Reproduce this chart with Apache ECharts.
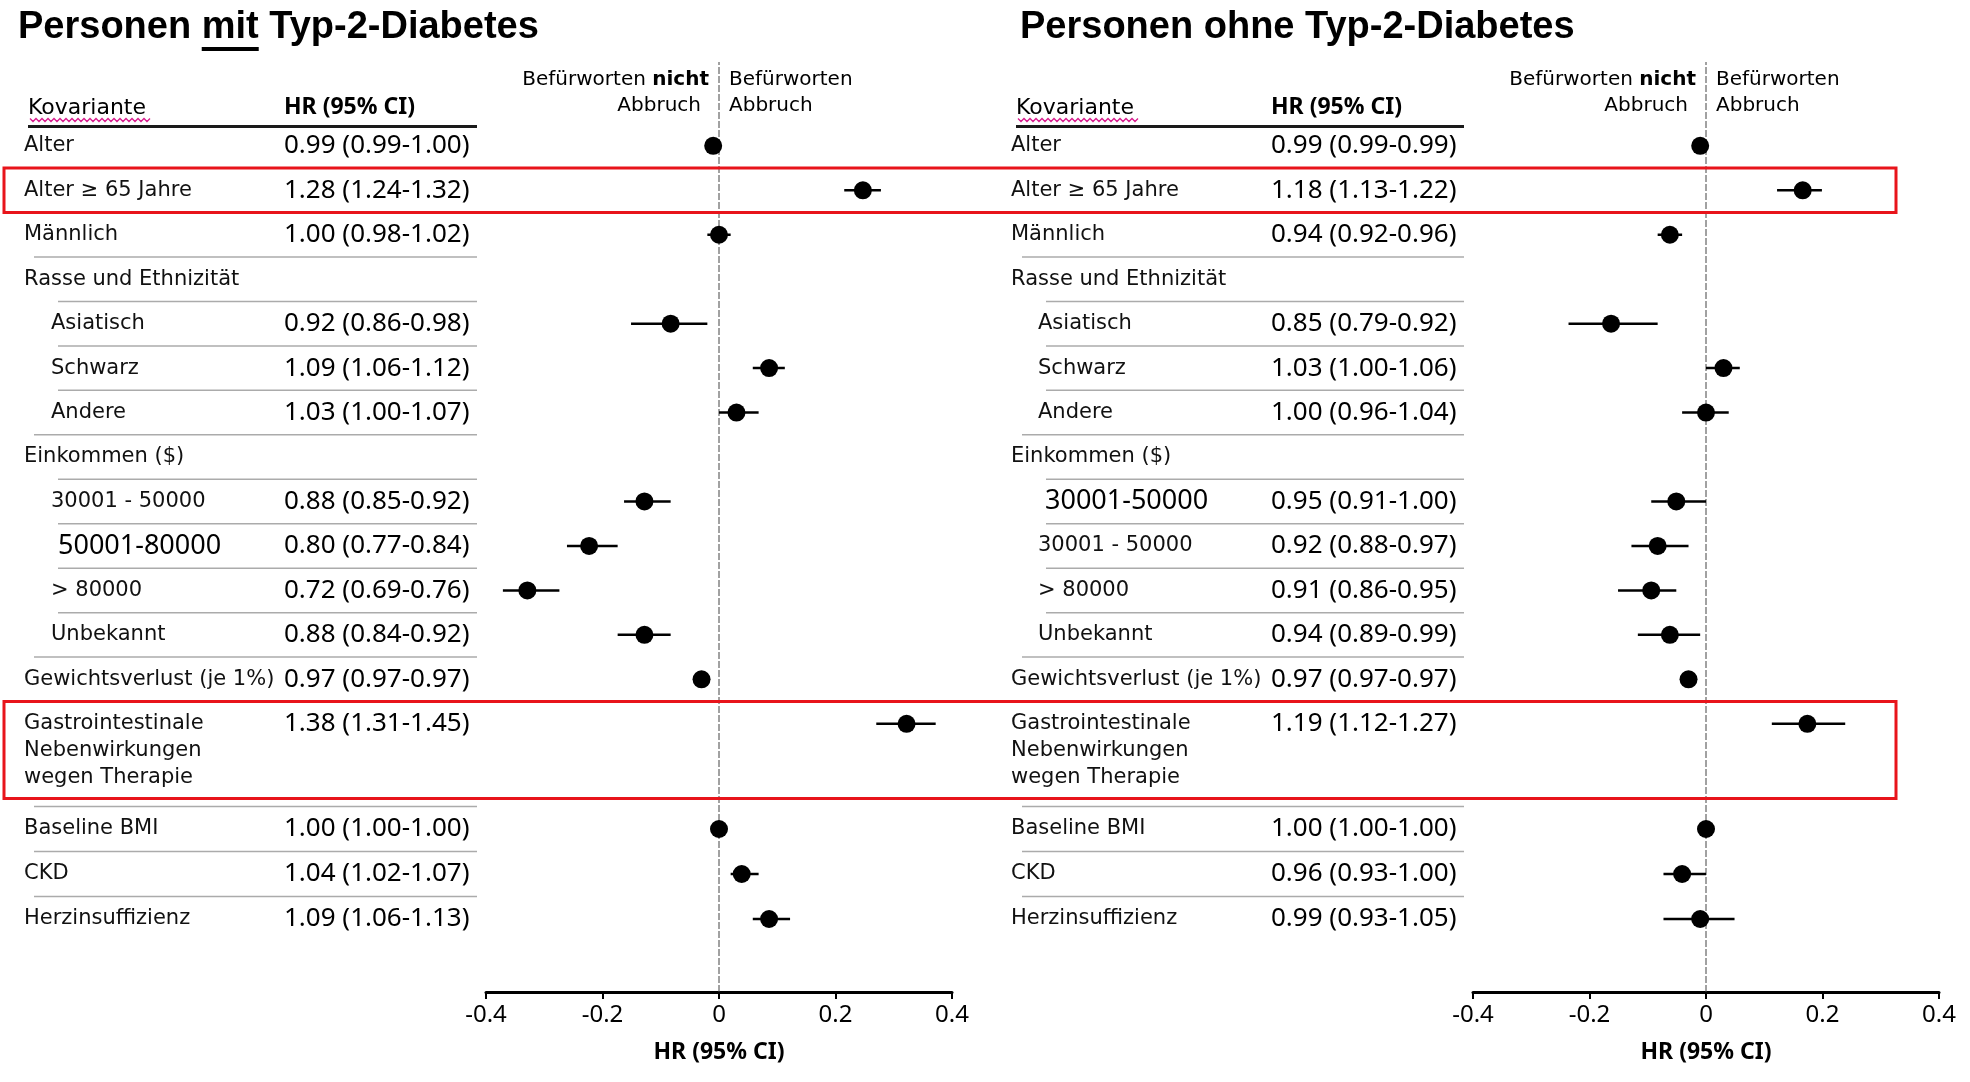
<!DOCTYPE html>
<html>
<head>
<meta charset="utf-8">
<title>HR Forest Plot</title>
<script src="https://cdn.jsdelivr.net/npm/echarts@6/dist/echarts.min.js"></script>
<style>
html, body { margin: 0; padding: 0; background: #fff; }
#main { width: 1970px; height: 1082px; }
</style>
</head>
<body>
<div id="main"></div>
<script>
// Zeilen (Kovariaten) je Panel
var rowsMit = ['Alter', 'Alter ≥ 65 Jahre', 'Männlich', 'Rasse und Ethnizität', 'Asiatisch', 'Schwarz', 'Andere',
    'Einkommen ($)', '30001 - 50000', '50001-80000', '> 80000', 'Unbekannt', 'Gewichtsverlust (je 1%)',
    'Gastrointestinale\nNebenwirkungen\nwegen Therapie', 'Baseline BMI', 'CKD', 'Herzinsuffizienz'];
var rowsOhne = ['Alter', 'Alter ≥ 65 Jahre', 'Männlich', 'Rasse und Ethnizität', 'Asiatisch', 'Schwarz', 'Andere',
    'Einkommen ($)', '30001-50000', '30001 - 50000', '> 80000', 'Unbekannt', 'Gewichtsverlust (je 1%)',
    'Gastrointestinale\nNebenwirkungen\nwegen Therapie', 'Baseline BMI', 'CKD', 'Herzinsuffizienz'];

var hrMit = ['0.99 (0.99-1.00)', '1.28 (1.24-1.32)', '1.00 (0.98-1.02)', '', '0.92 (0.86-0.98)', '1.09 (1.06-1.12)',
    '1.03 (1.00-1.07)', '', '0.88 (0.85-0.92)', '0.80 (0.77-0.84)', '0.72 (0.69-0.76)', '0.88 (0.84-0.92)',
    '0.97 (0.97-0.97)', '1.38 (1.31-1.45)', '1.00 (1.00-1.00)', '1.04 (1.02-1.07)', '1.09 (1.06-1.13)'];
var hrOhne = ['0.99 (0.99-0.99)', '1.18 (1.13-1.22)', '0.94 (0.92-0.96)', '', '0.85 (0.79-0.92)', '1.03 (1.00-1.06)',
    '1.00 (0.96-1.04)', '', '0.95 (0.91-1.00)', '0.92 (0.88-0.97)', '0.91 (0.86-0.95)', '0.94 (0.89-0.99)',
    '0.97 (0.97-0.97)', '1.19 (1.12-1.27)', '1.00 (1.00-1.00)', '0.96 (0.93-1.00)', '0.99 (0.93-1.05)'];

// Punktschaetzer und KI (log-Skala der Achse)
var estMit = [-0.010, 0.247, 0.000, null, -0.083, 0.086, 0.030, null, -0.128, -0.223, -0.329, -0.128, -0.030, 0.322, 0.000, 0.039, 0.086];
var loMit  = [-0.010, 0.215, -0.020, null, -0.151, 0.058, 0.000, null, -0.163, -0.261, -0.371, -0.174, -0.030, 0.270, 0.000, 0.020, 0.058];
var hiMit  = [0.000, 0.278, 0.020, null, -0.020, 0.113, 0.068, null, -0.083, -0.174, -0.274, -0.083, -0.030, 0.372, 0.000, 0.068, 0.122];

var estOhne = [-0.010, 0.166, -0.062, null, -0.163, 0.030, 0.000, null, -0.051, -0.083, -0.094, -0.062, -0.030, 0.174, 0.000, -0.041, -0.010];
var loOhne  = [-0.010, 0.122, -0.083, null, -0.236, 0.000, -0.041, null, -0.094, -0.128, -0.151, -0.117, -0.030, 0.113, 0.000, -0.073, -0.073];
var hiOhne  = [-0.010, 0.199, -0.041, null, -0.083, 0.058, 0.039, null, 0.000, -0.030, -0.051, -0.010, -0.030, 0.239, 0.000, 0.000, 0.049];

var xMin = -0.4, xMax = 0.4, xStep = 0.2;

var LABEL_FONT = 'DejaVu Sans';
var NUM_FONT = 'Noto Sans';
var nUpper = 14;                       // Alter .. Gastrointestinale
var subRows = [4, 5, 6, 8, 9, 10, 11]; // eingerueckte Zeilen
var boxRows = [1, 13];                 // rot markiert

var chart = echarts.init(document.getElementById('main'));

var grids = [], xAxes = [], yAxes = [], series = [];

function addPanel(p) {
    var parts = [
        {from: 0, to: nUpper, top: 123.6, height: 622.4},
        {from: nUpper, to: p.rows.length, top: 806.5, height: 135}
    ];
    p.yIdx = [];
    parts.forEach(function (part) {
        var gi = grids.length;
        grids.push({left: p.left, width: 466, top: part.top, height: part.height, outerBoundsMode: 'none'});
        var xi = xAxes.length;
        xAxes.push({gridIndex: gi, type: 'value', min: xMin, max: xMax, show: false});
        var idx = [];
        for (var i = part.from; i < part.to; i++) idx.push(i);

        var yi = yAxes.length;
        yAxes.push({
            gridIndex: gi, type: 'category', inverse: true, position: 'left',
            data: idx.map(function (i) { return p.rows[i]; }),
            axisLine: {show: false}, axisTick: {show: false}, splitLine: {show: false},
            axisLabel: {
                interval: 0, margin: 462, align: 'left',
                fontFamily: LABEL_FONT, fontSize: 21, color: '#111', lineHeight: 27,
                formatter: function (v, k) {
                    var i = part.from + k;
                    if (i === p.big) return '{big|' + v + '}';
                    if (subRows.indexOf(i) >= 0) return '{sub|' + v + '}';
                    if (v.indexOf('\n') >= 0) return '\n\n' + v;
                    return v;
                },
                rich: {
                    sub: {fontFamily: LABEL_FONT, fontSize: 21, color: '#111', lineHeight: 27, padding: [0, 0, 0, 27]},
                    big: {fontFamily: NUM_FONT, fontSize: 27, color: '#000', lineHeight: 27, padding: [0, 0, 0, 34]}
                }
            }
        });
        yAxes.push({
            gridIndex: gi, type: 'category', inverse: true, position: 'left',
            data: idx.map(function (i) { return p.hr[i]; }),
            axisLine: {show: false}, axisTick: {show: false}, splitLine: {show: false},
            axisLabel: {interval: 0, margin: 202, align: 'left', fontFamily: NUM_FONT, fontSize: 26, color: '#000'}
        });
        p.yIdx.push(yi);

        var bars = [], dots = [];
        idx.forEach(function (i, k) {
            if (p.est[i] === null) return;
            bars.push([p.lo[i], p.hi[i], k]);
            dots.push([p.est[i], k]);
        });
        series.push({
            type: 'custom', xAxisIndex: xi, yAxisIndex: yi, silent: true, z: 3,
            encode: {x: [0, 1], y: 2},
            data: bars,
            renderItem: function (params, api) {
                var a = api.coord([api.value(0), api.value(2)]);
                var b = api.coord([api.value(1), api.value(2)]);
                return {
                    type: 'line',
                    shape: {x1: a[0], y1: a[1], x2: b[0], y2: b[1]},
                    style: {stroke: '#000', lineWidth: 2.5}
                };
            }
        });
        series.push({
            type: 'scatter', xAxisIndex: xi, yAxisIndex: yi, silent: true, z: 4,
            symbolSize: 18, itemStyle: {color: '#000', opacity: 1},
            data: dots
        });
    });

    // Achse und Nulllinie ueber die ganze Hoehe
    var ga = grids.length;
    grids.push({left: p.left, width: 466, top: 62, bottom: 90, outerBoundsMode: 'none'});
    p.xAxis = xAxes.length;
    xAxes.push({
        gridIndex: ga, type: 'value', min: xMin, max: xMax, interval: xStep,
        name: 'HR (95% CI)', nameLocation: 'middle', nameGap: 49,
        nameTextStyle: {fontFamily: NUM_FONT, fontSize: 23, fontWeight: 'bold', color: '#000'},
        axisLine: {onZero: false, lineStyle: {color: '#000', width: 3}},
        axisTick: {length: 7, lineStyle: {color: '#000', width: 2}},
        axisLabel: {margin: 11, fontFamily: NUM_FONT, fontSize: 24, color: '#000'},
        splitLine: {show: false}
    });
    var ya = yAxes.length;
    yAxes.push({gridIndex: ga, type: 'value', min: 0, max: 1, show: false});
    series.push({
        type: 'line', xAxisIndex: p.xAxis, yAxisIndex: ya, silent: true, z: 1,
        symbol: 'none', data: [[0, 0], [0, 1]],
        lineStyle: {color: '#444', width: 1, type: [7, 2]}
    });
}

var panels = [
    {title: 'Personen mit Typ-2-Diabetes', underline: 'mit', titleX: 18, tableX: 24, left: 486,
        rows: rowsMit, hr: hrMit, est: estMit, lo: loMit, hi: hiMit, big: 9},
    {title: 'Personen ohne Typ-2-Diabetes', titleX: 1020, tableX: 1012, left: 1473,
        rows: rowsOhne, hr: hrOhne, est: estOhne, lo: loOhne, hi: hiOhne, big: 8}
];
panels.forEach(addPanel);

chart.setOption({
    backgroundColor: '#fff',
    animation: false,
    grid: grids,
    xAxis: xAxes,
    yAxis: yAxes,
    series: series
});

// Tabellenlinien, Kopfzeilen, Rahmen
function py(yi, k) { return chart.convertToPixel({yAxisIndex: yi}, k); }

var measure = document.createElement('canvas').getContext('2d');
var graphics = [];

panels.forEach(function (p) {
    var up = p.yIdx[0], low = p.yIdx[1];
    var band = py(up, 1) - py(up, 0);
    var lowBand = py(low, 1) - py(low, 0);
    var zero = chart.convertToPixel({xAxisIndex: p.xAxis}, 0);
    var tableEnd = p.left - 9;

    function boundaryAfter(i) {
        if (i < nUpper - 1) return (py(up, i) + py(up, i + 1)) / 2;
        if (i === nUpper - 1) return py(low, 0) - lowBand / 2;
        return (py(low, i - nUpper) + py(low, i - nUpper + 1)) / 2;
    }

    for (var i = 0; i < p.rows.length - 1; i++) {
        var y = boundaryAfter(i);
        var x0 = subRows.indexOf(i + 1) >= 0 ? p.tableX + 34 : p.tableX + 10;
        graphics.push({type: 'line', z: 5, silent: true,
            shape: {x1: x0, y1: y, x2: tableEnd, y2: y},
            style: {stroke: '#ababab', lineWidth: 1.5}});
    }

    // Kopf
    var headY = py(up, 0) - band / 2 + 3;
    graphics.push({type: 'line', z: 5, silent: true,
        shape: {x1: p.tableX + 4, y1: headY, x2: tableEnd, y2: headY},
        style: {stroke: '#1a1a1a', lineWidth: 3}});
    graphics.push({type: 'text', z: 6, silent: true,
        style: {x: p.tableX + 4, y: 108, text: 'Kovariante', font: '22px "' + LABEL_FONT + '"',
            fill: '#000', verticalAlign: 'middle'}});
    graphics.push({type: 'text', z: 6, silent: true,
        style: {x: p.left - 202, y: 107, text: 'HR (95% CI)', font: 'bold 23px "' + NUM_FONT + '"',
            fill: '#000', verticalAlign: 'middle'}});
    var wave = [];
    for (var wx = 0; wx <= 120; wx += 3) {
        wave.push([p.tableX + 6 + wx, 120 + ((wx / 3) % 2 === 0 ? -1.5 : 1.5)]);
    }
    graphics.push({type: 'polyline', z: 6, silent: true, shape: {points: wave},
        style: {stroke: '#d8198c', lineWidth: 1.3, fill: null}});

    graphics.push({type: 'text', z: 6, silent: true,
        style: {x: zero - 10, y: 80, text: '{n|Befürworten }{b|nicht}', align: 'right', verticalAlign: 'middle',
            rich: {n: {font: '20px "' + LABEL_FONT + '"', fill: '#000'},
                   b: {font: 'bold 20px "' + LABEL_FONT + '"', fill: '#000'}}}});
    graphics.push({type: 'text', z: 6, silent: true,
        style: {x: zero - 18, y: 106, text: 'Abbruch', font: '20px "' + LABEL_FONT + '"', fill: '#000',
            align: 'right', verticalAlign: 'middle'}});
    graphics.push({type: 'text', z: 6, silent: true,
        style: {x: zero + 10, y: 67, text: 'Befürworten\nAbbruch', font: '20px "' + LABEL_FONT + '"', fill: '#000',
            lineHeight: 26, verticalAlign: 'top', align: 'left'}});

    // Titel
    var titleFont = 'bold 38px "Liberation Sans"';
    graphics.push({type: 'text', z: 6, silent: true,
        style: {x: p.titleX, y: 28, text: p.title, font: titleFont, fill: '#000', verticalAlign: 'middle'}});
    if (p.underline) {
        measure.font = titleFont;
        var pre = p.title.slice(0, p.title.indexOf(p.underline));
        var ux = p.titleX + measure.measureText(pre).width;
        var uw = measure.measureText(p.underline).width;
        graphics.push({type: 'line', z: 6, silent: true,
            shape: {x1: ux, y1: 49, x2: ux + uw, y2: 49},
            style: {stroke: '#000', lineWidth: 4}});
    }

    p.boundaryAfter = boundaryAfter;
    p.lowTop = py(low, 0) - lowBand / 2;
});

// rote Rahmen (ueber beide Panels)
var p0 = panels[0];
boxRows.forEach(function (r) {
    var top = p0.boundaryAfter(r - 1);
    var bottom = r < nUpper - 1 ? p0.boundaryAfter(r) : p0.lowTop - 8;
    graphics.push({type: 'rect', z: 10, silent: true,
        shape: {x: 4, y: top, width: 1892, height: bottom - top},
        style: {stroke: '#e8141b', lineWidth: 3, fill: null}});
});

chart.setOption({graphic: {elements: graphics}});

window.addEventListener('resize', function () { chart.resize(); });
</script>
</body>
</html>
